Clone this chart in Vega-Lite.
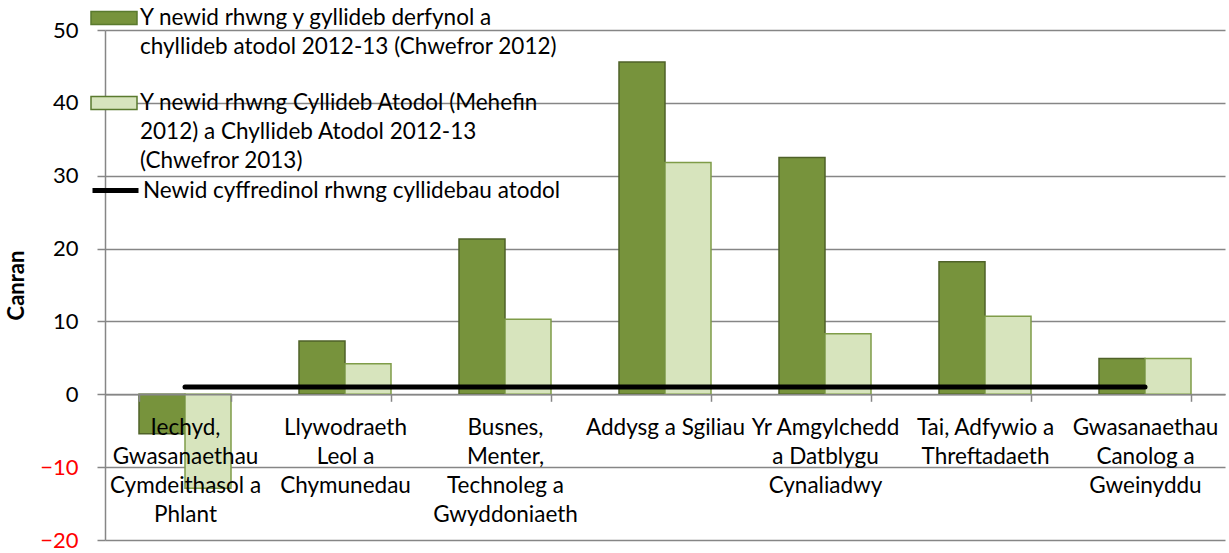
{
  "$schema": "https://vega.github.io/schema/vega-lite/v6.json",
  "width": 1120,
  "height": 510,
  "autosize": {"type": "none"},
  "padding": {"left": 105, "top": 30, "right": 4, "bottom": 13},
  "background": "white",
  "config": {
    "font": "Lato",
    "view": {"stroke": null},
    "style": {"guide-label": {"lineHeight": 29}}
  },
  "datasets": {
    "bars": [
      {"category": "Iechyd, Gwasanaethau Cymdeithasol a Phlant", "series": "Y newid rhwng y gyllideb derfynol a chyllideb atodol 2012-13 (Chwefror 2012)", "value": -5.4},
      {"category": "Iechyd, Gwasanaethau Cymdeithasol a Phlant", "series": "Y newid rhwng Cyllideb Atodol (Mehefin 2012) a Chyllideb Atodol 2012-13 (Chwefror 2013)", "value": -12.9},
      {"category": "Llywodraeth Leol a Chymunedau", "series": "Y newid rhwng y gyllideb derfynol a chyllideb atodol 2012-13 (Chwefror 2012)", "value": 7.3},
      {"category": "Llywodraeth Leol a Chymunedau", "series": "Y newid rhwng Cyllideb Atodol (Mehefin 2012) a Chyllideb Atodol 2012-13 (Chwefror 2013)", "value": 4.2},
      {"category": "Busnes, Menter, Technoleg a Gwyddoniaeth", "series": "Y newid rhwng y gyllideb derfynol a chyllideb atodol 2012-13 (Chwefror 2012)", "value": 21.3},
      {"category": "Busnes, Menter, Technoleg a Gwyddoniaeth", "series": "Y newid rhwng Cyllideb Atodol (Mehefin 2012) a Chyllideb Atodol 2012-13 (Chwefror 2013)", "value": 10.3},
      {"category": "Addysg a Sgiliau", "series": "Y newid rhwng y gyllideb derfynol a chyllideb atodol 2012-13 (Chwefror 2012)", "value": 45.6},
      {"category": "Addysg a Sgiliau", "series": "Y newid rhwng Cyllideb Atodol (Mehefin 2012) a Chyllideb Atodol 2012-13 (Chwefror 2013)", "value": 31.8},
      {"category": "Yr Amgylchedd a Datblygu Cynaliadwy", "series": "Y newid rhwng y gyllideb derfynol a chyllideb atodol 2012-13 (Chwefror 2012)", "value": 32.5},
      {"category": "Yr Amgylchedd a Datblygu Cynaliadwy", "series": "Y newid rhwng Cyllideb Atodol (Mehefin 2012) a Chyllideb Atodol 2012-13 (Chwefror 2013)", "value": 8.3},
      {"category": "Tai, Adfywio a Threftadaeth", "series": "Y newid rhwng y gyllideb derfynol a chyllideb atodol 2012-13 (Chwefror 2012)", "value": 18.2},
      {"category": "Tai, Adfywio a Threftadaeth", "series": "Y newid rhwng Cyllideb Atodol (Mehefin 2012) a Chyllideb Atodol 2012-13 (Chwefror 2013)", "value": 10.7},
      {"category": "Gwasanaethau Canolog a Gweinyddu", "series": "Y newid rhwng y gyllideb derfynol a chyllideb atodol 2012-13 (Chwefror 2012)", "value": 4.9},
      {"category": "Gwasanaethau Canolog a Gweinyddu", "series": "Y newid rhwng Cyllideb Atodol (Mehefin 2012) a Chyllideb Atodol 2012-13 (Chwefror 2013)", "value": 4.9}
    ],
    "line": [
      {"category": "Iechyd, Gwasanaethau Cymdeithasol a Phlant", "series": "Newid cyffredinol rhwng cyllidebau atodol", "value": 1.0},
      {"category": "Llywodraeth Leol a Chymunedau", "series": "Newid cyffredinol rhwng cyllidebau atodol", "value": 1.0},
      {"category": "Busnes, Menter, Technoleg a Gwyddoniaeth", "series": "Newid cyffredinol rhwng cyllidebau atodol", "value": 1.0},
      {"category": "Addysg a Sgiliau", "series": "Newid cyffredinol rhwng cyllidebau atodol", "value": 1.0},
      {"category": "Yr Amgylchedd a Datblygu Cynaliadwy", "series": "Newid cyffredinol rhwng cyllidebau atodol", "value": 1.0},
      {"category": "Tai, Adfywio a Threftadaeth", "series": "Newid cyffredinol rhwng cyllidebau atodol", "value": 1.0},
      {"category": "Gwasanaethau Canolog a Gweinyddu", "series": "Newid cyffredinol rhwng cyllidebau atodol", "value": 1.0}
    ]
  },
  "layer": [
    {
      "data": {"name": "bars"},
      "mark": {"type": "bar", "strokeWidth": 1.5},
      "encoding": {
        "x": {
          "field": "category",
          "type": "nominal",
          "sort": null,
          "scale": {
            "domain": ["Iechyd, Gwasanaethau Cymdeithasol a Phlant", "Llywodraeth Leol a Chymunedau", "Busnes, Menter, Technoleg a Gwyddoniaeth", "Addysg a Sgiliau", "Yr Amgylchedd a Datblygu Cynaliadwy", "Tai, Adfywio a Threftadaeth", "Gwasanaethau Canolog a Gweinyddu"],
            "paddingInner": 0.425,
            "paddingOuter": 0.2125
          },
          "axis": {
            "title": null,
            "orient": "bottom",
            "offset": -145.71,
            "zindex": 1,
            "grid": false,
            "domainColor": "#868686",
            "domainWidth": 1.5,
            "tickBand": "extent",
            "tickColor": "#868686",
            "tickWidth": 1.5,
            "tickSize": 7,
            "labelAngle": 0,
            "labelFont": "Lato",
            "labelFontSize": 22.5,
            "labelColor": "black",
            "labelBaseline": "top",
            "labelLineHeight": 29,
            "labelPadding": 15,
            "labelLimit": 0,
            "labelOverlap": false,
            "labelExpr": "datum.value == 'Iechyd, Gwasanaethau Cymdeithasol a Phlant' ? ['Iechyd,', 'Gwasanaethau', 'Cymdeithasol a', 'Phlant'] : datum.value == 'Llywodraeth Leol a Chymunedau' ? ['Llywodraeth', 'Leol a', 'Chymunedau'] : datum.value == 'Busnes, Menter, Technoleg a Gwyddoniaeth' ? ['Busnes,', 'Menter,', 'Technoleg a', 'Gwyddoniaeth'] : datum.value == 'Yr Amgylchedd a Datblygu Cynaliadwy' ? ['Yr Amgylchedd', 'a Datblygu', 'Cynaliadwy'] : datum.value == 'Tai, Adfywio a Threftadaeth' ? ['Tai, Adfywio a', 'Threftadaeth'] : datum.value == 'Gwasanaethau Canolog a Gweinyddu' ? ['Gwasanaethau', 'Canolog a', 'Gweinyddu'] : datum.value"
          }
        },
        "xOffset": {
          "field": "series",
          "type": "nominal",
          "sort": null,
          "scale": {"paddingInner": 0, "paddingOuter": 0}
        },
        "y": {
          "field": "value",
          "type": "quantitative",
          "scale": {"domain": [-20, 50], "nice": false, "zero": false},
          "axis": {
            "title": "Canran",
            "titleFont": "Lato",
            "titleFontSize": 22,
            "titleFontWeight": "bold",
            "titleColor": "black",
            "titlePadding": 11,
            "values": [-20, -10, 0, 10, 20, 30, 40, 50],
            "grid": true,
            "gridColor": "#868686",
            "gridWidth": 1.5,
            "domainColor": "#868686",
            "domainWidth": 1.5,
            "tickColor": "#868686",
            "tickWidth": 1.5,
            "tickSize": 8,
            "labelFont": "Lato",
            "labelFontSize": 22,
            "labelPadding": 19,
            "labelColor": {"expr": "datum.value < 0 ? '#FF0000' : 'black'"}
          }
        },
        "fill": {
          "field": "series",
          "type": "nominal",
          "sort": null,
          "scale": {
            "domain": ["Y newid rhwng y gyllideb derfynol a chyllideb atodol 2012-13 (Chwefror 2012)", "Y newid rhwng Cyllideb Atodol (Mehefin 2012) a Chyllideb Atodol 2012-13 (Chwefror 2013)"],
            "range": ["#77933C", "#D7E4BD"]
          },
          "legend": {
            "orient": "none",
            "legendX": -15,
            "legendY": -36,
            "title": null,
            "padding": 0,
            "symbolType": "M-1,-0.28H1V0.28H-1Z",
            "symbolSize": 2116,
            "symbolStrokeWidth": 1.5,
            "symbolStrokeColor": "#5A7A2E",
            "symbolOpacity": 1,
            "labelFont": "Lato",
            "labelFontSize": 22.5,
            "labelColor": "black",
            "labelLimit": 0,
            "labelOffset": 2,
            "labelBaseline": "middle",
            "rowPadding": 20,
            "labelExpr": "datum.label == 'Y newid rhwng y gyllideb derfynol a chyllideb atodol 2012-13 (Chwefror 2012)' ? ['Y newid rhwng y gyllideb derfynol a', 'chyllideb atodol 2012-13 (Chwefror 2012)'] : ['Y newid rhwng Cyllideb Atodol (Mehefin', '2012) a Chyllideb Atodol 2012-13', '(Chwefror 2013)']"
          }
        },
        "stroke": {
          "condition": {"test": "datum.series == 'Y newid rhwng y gyllideb derfynol a chyllideb atodol 2012-13 (Chwefror 2012)'", "value": "#4F6228"},
          "value": "#7F9C48"
        }
      }
    },
    {
      "data": {"name": "line"},
      "mark": {"type": "line", "strokeWidth": 5, "strokeCap": "round"},
      "encoding": {
        "x": {"field": "category", "type": "nominal", "sort": null},
        "y": {"field": "value", "type": "quantitative"},
        "stroke": {
          "field": "series",
          "type": "nominal",
          "scale": {"domain": ["Newid cyffredinol rhwng cyllidebau atodol"], "range": ["black"]},
          "legend": {
            "orient": "none",
            "legendX": -15,
            "legendY": 135,
            "title": null,
            "padding": 0,
            "symbolType": "stroke",
            "symbolSize": 2116,
            "symbolStrokeWidth": 5,
            "labelFont": "Lato",
            "labelFontSize": 22.5,
            "labelColor": "black",
            "labelLimit": 0,
            "labelOffset": 2
          }
        }
      }
    }
  ]
}
